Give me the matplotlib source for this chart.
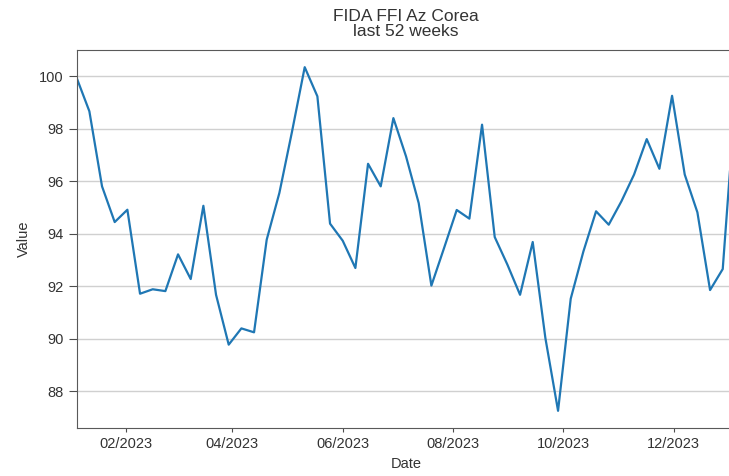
import numpy as np
import pandas as pd
import matplotlib
matplotlib.use("Agg")
import matplotlib.pyplot as plt
import matplotlib.dates as mdates
import seaborn as sns

# weekly values, last 52 weeks
dates = pd.date_range("2023-01-05", periods=53, freq="7D")
values = [99.94, 98.67, 95.81, 94.45, 94.92, 91.72, 91.89, 91.82, 93.22, 92.28,
          95.07, 91.68, 89.78, 90.40, 90.25, 93.78, 95.56, 97.90, 100.35, 99.24,
          94.39, 93.74, 92.70, 96.67, 95.81, 98.41, 96.95, 95.17, 92.03, 93.46,
          94.91, 94.58, 98.16, 93.88, 92.83, 91.68, 93.69, 90.03, 87.26, 91.53,
          93.33, 94.86, 94.35, 95.24, 96.26, 97.61, 96.48, 99.26, 96.26, 94.82,
          91.86, 92.66, 99.20]

df = pd.DataFrame({"Date": dates, "Value": values})

sns.set_style("ticks")
plt.rcParams["font.family"] = ["Liberation Sans", "DejaVu Sans"]

fig = plt.figure(figsize=(7.29, 4.76), dpi=100)
ax = fig.add_axes([76.7 / 729, 48 / 476, (735.4 - 76.7) / 729, 378 / 476])

sns.lineplot(data=df, x="Date", y="Value", ax=ax, color="#1f77b4", linewidth=1.6)

ax.set_xlim(dates[0], dates[-1])
ax.xaxis.set_major_locator(mdates.MonthLocator(bymonth=[2, 4, 6, 8, 10, 12]))
ax.xaxis.set_major_formatter(mdates.DateFormatter("%m/%Y"))
ax.set_yticks([88, 90, 92, 94, 96, 98, 100])

ax.grid(axis="y", color="#d0d0d0", linewidth=1)
ax.tick_params(axis="x", length=3, labelsize=10.5, colors="0.3", labelcolor="0.2")
ax.tick_params(axis="y", length=6, labelsize=10.5, colors="0.3", labelcolor="0.2")
for s in ax.spines.values():
    s.set_color("0.35")

ax.set_xlabel("Date", fontsize=10.5, color="0.2", labelpad=4)
ax.set_ylabel("Value", fontsize=10.5, color="0.2", labelpad=6)
ax.set_title("FIDA FFI Az Corea\nlast 52 weeks", fontsize=12.5, color="0.2",
             linespacing=1.05, pad=10)

fig.savefig("out.png", dpi=100)
